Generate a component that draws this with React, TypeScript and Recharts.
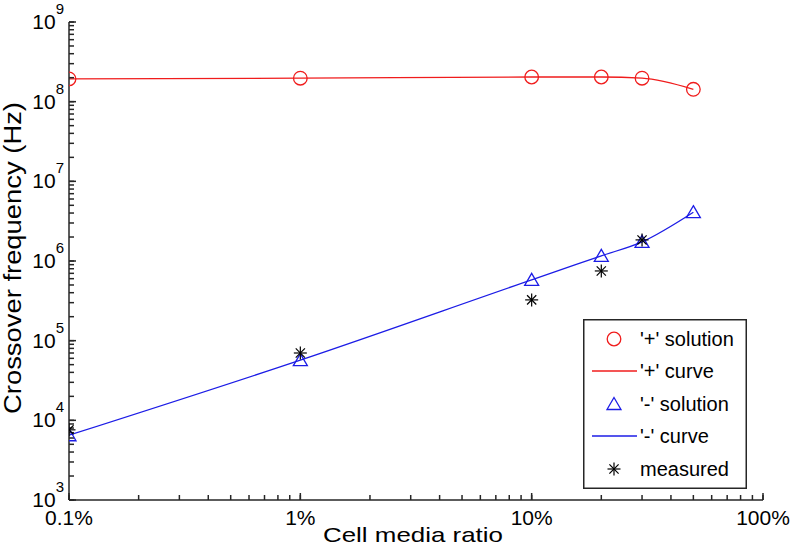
import React from 'react';
import { ComposedChart, Line, Scatter, XAxis, YAxis, Legend } from 'recharts';

// cell media ratio (fraction) and crossover frequencies in Hz
const ratios = [0.001, 0.01, 0.1, 0.2, 0.3, 0.5];
const plusSolution = [1.93e8, 1.97e8, 2.04e8, 2.04e8, 1.97e8, 1.43e8];
const plusCurve = [1.93e8, 1.97e8, 2.04e8, 2.04e8, 1.97e8, 1.43e8];
const minusSolution = [6.5e3, 5.7e4, 5.8e5, 1.16e6, 1.74e6, 4.1e6];
const minusCurve = [6.5e3, 5.7e4, 5.8e5, 1.16e6, 1.74e6, 4.1e6];
const measuredRatios = [0.001, 0.01, 0.1, 0.2, 0.3];
const measured = [7.6e3, 7.0e4, 3.25e5, 7.5e5, 1.84e6];

const xMajorTicks = [0.001, 0.01, 0.1, 1];
const xTickLabels = ['0.1%', '1%', '10%', '100%'];
const yMajorTicks = [1e3, 1e4, 1e5, 1e6, 1e7, 1e8, 1e9];
const yTickExponents = ['3', '4', '5', '6', '7', '8', '9'];
const legendLabels = ["'+' solution", "'+' curve", "'-' solution", "'-' curve", 'measured'];

const RED = '#f01c1c';
const BLUE = '#1c1ce6';
const AX = '#262626';
const FONT = '"Liberation Sans", Arial, sans-serif';
const TS = 5; // minor tick length, drawn inward
const SW = 1.5;

// log ticks: each decade plus 2..9 in between
const withMinor = (majors: number[]) => {
  const out: number[] = [];
  majors.forEach((m, i) => {
    out.push(m);
    if (i < majors.length - 1) for (let k = 2; k <= 9; k++) out.push(m * k);
  });
  return out;
};
const xTicks = withMinor(xMajorTicks);
const yTicks = withMinor(yMajorTicks);

const pts = (xs: number[], ys: number[]) => xs.map((x, i) => ({ x, y: ys[i] }));

const Circle = ({ cx, cy }: any) => <circle cx={cx} cy={cy} r={6.8} fill="none" stroke={RED} strokeWidth={1.3} />;
const Triangle = ({ cx, cy }: any) => (
  <polygon points={`${cx},${cy - 6.5} ${cx + 7},${cy + 5.5} ${cx - 7},${cy + 5.5}`} fill="none" stroke={BLUE} strokeWidth={1.3} />
);
const Star = ({ cx, cy }: any) => {
  const r = 6.5;
  const d = 4.6;
  return (
    <g stroke="#000" strokeWidth={1.2}>
      <line x1={cx - r} y1={cy} x2={cx + r} y2={cy} />
      <line x1={cx} y1={cy - r} x2={cx} y2={cy + r} />
      <line x1={cx - d} y1={cy - d} x2={cx + d} y2={cy + d} />
      <line x1={cx - d} y1={cy + d} x2={cx + d} y2={cy - d} />
    </g>
  );
};

// tick coords arrive already shifted TS px inside the plot; majors get a longer mark
const BottomTick = ({ x, y, payload }: any) => {
  const i = xMajorTicks.indexOf(payload.value);
  if (i < 0) return <g />;
  return (
    <g>
      <path d={`M${x},${y + TS}V${y - 2}`} stroke={AX} strokeWidth={SW} fill="none" />
      <text x={x} y={y + TS + 25} textAnchor="middle" fontSize={21} fill="#000">{xTickLabels[i]}</text>
    </g>
  );
};
const TopTick = ({ x, y, payload }: any) => {
  if (!xMajorTicks.includes(payload.value)) return <g />;
  return <path d={`M${x},${y - TS}V${y + 2}`} stroke={AX} strokeWidth={SW} fill="none" />;
};
const LeftTick = ({ x, y, payload }: any) => {
  const i = yMajorTicks.indexOf(payload.value);
  if (i < 0) return <g />;
  return (
    <g>
      <path d={`M${x - TS},${y}H${x + 2}`} stroke={AX} strokeWidth={SW} fill="none" />
      <text x={x - TS - 5} y={y + 7} textAnchor="end" fontSize={21} fill="#000">
        10<tspan fontSize={15} dy={-15}>{yTickExponents[i]}</tspan>
      </text>
    </g>
  );
};
const RightTick = ({ x, y, payload }: any) => {
  if (!yMajorTicks.includes(payload.value)) return <g />;
  return <path d={`M${x + TS},${y}H${x - 2}`} stroke={AX} strokeWidth={SW} fill="none" />;
};

const LegendBox = () => {
  const rowY = [20, 52, 85, 117, 150];
  return (
    <svg width={164} height={170} style={{ display: 'block', fontFamily: FONT }}>
      <rect x={0.75} y={0.75} width={162.5} height={168.5} fill="#fff" stroke={AX} strokeWidth={SW} />
      <Circle cx={31} cy={rowY[0]} />
      <line x1={9} x2={54} y1={rowY[1]} y2={rowY[1]} stroke={RED} strokeWidth={1.3} />
      <Triangle cx={31} cy={rowY[2]} />
      <line x1={9} x2={54} y1={rowY[3]} y2={rowY[3]} stroke={BLUE} strokeWidth={1.3} />
      <Star cx={31} cy={rowY[4]} />
      {legendLabels.map((t, i) => (
        <text key={t} x={57} y={rowY[i] + 7} fontSize={20} fill="#000">{t}</text>
      ))}
    </svg>
  );
};

const axisCommon = {
  type: 'number' as const,
  scale: 'log' as const,
  allowDataOverflow: true,
  interval: 0 as const,
  tickSize: -TS,
  tickMargin: 0,
  tickLine: { stroke: AX, strokeWidth: SW },
  axisLine: { stroke: AX, strokeWidth: SW },
};

export default function App() {
  return (
    <div style={{ width: 794, height: 553, fontFamily: FONT }}>
      <style>{'body{margin:0}'}</style>
      <ComposedChart width={794} height={553} margin={{ top: 22, right: 31, left: 0, bottom: 0 }}>
        <XAxis
          {...axisCommon} dataKey="x" domain={[0.001, 1]} ticks={xTicks} height={53} tick={<BottomTick />}
          label={{
            content: () => (
              <text x={413} y={542} textAnchor="middle" fontSize={21} textLength={180}
                lengthAdjust="spacingAndGlyphs" fill="#000">Cell media ratio</text>
            ),
          }}
        />
        <XAxis
          {...axisCommon} xAxisId="top" orientation="top" domain={[0.001, 1]} ticks={xTicks} height={0}
          tick={<TopTick />}
        />
        <YAxis
          {...axisCommon} dataKey="y" domain={[1e3, 1e9]} ticks={yTicks} width={69} tick={<LeftTick />}
          label={{
            content: () => (
              <text x={21} y={258} transform="rotate(-90, 21, 258)" textAnchor="middle" fontSize={23}
                textLength={312} lengthAdjust="spacingAndGlyphs" fill="#000">Crossover frequency (Hz)</text>
            ),
          }}
        />
        <YAxis
          {...axisCommon} yAxisId="right" orientation="right" domain={[1e3, 1e9]} ticks={yTicks} width={0}
          tick={<RightTick />}
        />
        <Line data={pts(ratios, plusCurve)} dataKey="y" type="monotone" stroke={RED} strokeWidth={1.3}
          dot={false} activeDot={false} isAnimationActive={false} />
        <Line data={pts(ratios, minusCurve)} dataKey="y" type="monotone" stroke={BLUE} strokeWidth={1.3}
          dot={false} activeDot={false} isAnimationActive={false} />
        <Scatter data={pts(ratios, plusSolution)} dataKey="y" shape={<Circle />} isAnimationActive={false} />
        <Scatter data={pts(ratios, minusSolution)} dataKey="y" shape={<Triangle />} isAnimationActive={false} />
        <Scatter data={pts(measuredRatios, measured)} dataKey="y" shape={<Star />} isAnimationActive={false} />
        <Legend layout="vertical" align="center" verticalAlign="middle" content={<LegendBox />}
          wrapperStyle={{ left: 583, top: 319, width: 164, height: 170 }} />
      </ComposedChart>
    </div>
  );
}
